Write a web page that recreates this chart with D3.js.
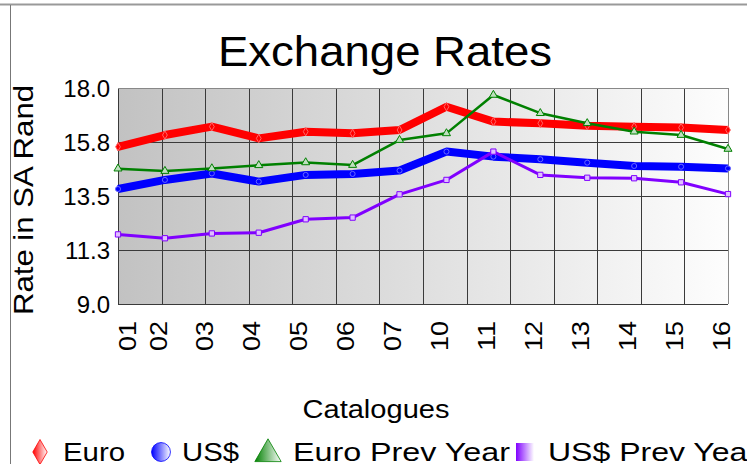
<!DOCTYPE html>
<html>
<head>
<script src="https://d3js.org/d3.v7.min.js"></script>
<style>
  html, body { margin: 0; padding: 0; background: #fff; }
  svg { display: block; font-family: 'Liberation Sans', Arial, sans-serif; }
</style>
</head>
<body>
<div id="chart"></div>
<script>
// catalogue numbers and rates
const catalogues = ["01","02","03","04","05","06","07","10","11","12","13","14","15","16"];
const euro     = [15.55,16.04,16.39,15.90,16.18,16.11,16.25,17.22,16.60,16.53,16.43,16.39,16.35,16.25];
const usd      = [13.79,14.17,14.44,14.10,14.38,14.42,14.56,15.35,15.14,15.03,14.89,14.75,14.72,14.65];
const euroPrev = [14.64,14.54,14.65,14.78,14.90,14.79,15.83,16.11,17.71,16.95,16.53,16.18,16.04,15.46];
const usdPrev  = [11.90,11.74,11.94,11.97,12.53,12.60,13.57,14.17,15.35,14.38,14.26,14.24,14.07,13.58];
const yTicks = [9.0, 11.25, 13.5, 15.75, 18.0];
const yTickLabels = ["9.0", "11.3", "13.5", "15.8", "18.0"];

const series = [
  { name: "Euro", values: euro, color: "#ff0000", width: 8, marker: "diamond" },
  { name: "US$", values: usd, color: "#0000ff", width: 8, marker: "circle" },
  { name: "Euro Prev  Year", values: euroPrev, color: "#008000", width: 2.5, marker: "triangle" },
  { name: "US$ Prev  Year", values: usdPrev, color: "#8000ff", width: 3, marker: "square" }
];

const width = 747, height = 464;
const plot = { left: 118, right: 728, top: 88, bottom: 304 };

const svg = d3.select("#chart").append("svg")
  .attr("width", width).attr("height", height);

const defs = svg.append("defs");
const bg = defs.append("linearGradient").attr("id", "bg")
  .attr("x1", "0").attr("x2", "1").attr("y1", "0").attr("y2", "0");
bg.append("stop").attr("offset", "0").attr("stop-color", "#c2c2c2");
bg.append("stop").attr("offset", "1").attr("stop-color", "#fdfdfd");

series.forEach((s, i) => {
  const g = defs.append("linearGradient").attr("id", "lg" + i)
    .attr("x1", "0").attr("x2", "1").attr("y1", "0").attr("y2", "0");
  g.append("stop").attr("offset", "0").attr("stop-color", s.color);
  g.append("stop").attr("offset", "1").attr("stop-color", "#ffffff");
});

// outer frame
svg.append("line").attr("x1", 0).attr("x2", width).attr("y1", 4.5).attr("y2", 4.5)
  .attr("stroke", "#999").attr("stroke-width", 2);
svg.append("line").attr("x1", 10.5).attr("x2", 10.5).attr("y1", 5).attr("y2", height)
  .attr("stroke", "#777").attr("stroke-width", 1);

const x = d3.scalePoint().domain(catalogues).range([plot.left, plot.right]);
const xBand = d3.scaleBand().domain(catalogues).range([plot.left, plot.right]);
const y = d3.scaleLinear().domain([9, 18]).range([plot.bottom, plot.top]);

// plot background
svg.append("rect")
  .attr("x", plot.left).attr("y", plot.top)
  .attr("width", plot.right - plot.left).attr("height", plot.bottom - plot.top)
  .attr("fill", "url(#bg)");

// grid
const grid = svg.append("g").attr("stroke", "#3a3a3a").attr("stroke-width", 1);
const vEdges = catalogues.map(c => xBand(c)).concat([plot.right]);
grid.selectAll("line.v").data(vEdges).join("line")
  .attr("x1", d => Math.round(d) + 0.5).attr("x2", d => Math.round(d) + 0.5)
  .attr("y1", plot.top).attr("y2", plot.bottom)
  .attr("stroke", (d, i) => (i === vEdges.length - 1 ? "#888" : "#3a3a3a"));
grid.selectAll("line.h").data(yTicks).join("line")
  .attr("x1", plot.left).attr("x2", plot.right)
  .attr("y1", d => Math.round(y(d)) + 0.5).attr("y2", d => Math.round(y(d)) + 0.5)
  .attr("stroke", (d, i) => (i === yTicks.length - 1 ? "#888" : "#3a3a3a"));

// y tick labels
svg.append("g").selectAll("text").data(yTicks).join("text")
  .attr("x", 110).attr("y", d => y(d))
  .attr("dy", "0.36em")
  .attr("text-anchor", "end")
  .attr("font-size", 24)
  .text((d, i) => yTickLabels[i]);

// x tick labels (rotated)
svg.append("g").selectAll("text").data(catalogues).join("text")
  .attr("transform", d => `translate(${Math.max(x(d) - 7, plot.left + 9)},321) rotate(-90)`)
  .attr("dy", "0.36em")
  .attr("text-anchor", "end")
  .attr("font-size", 24)
  .attr("textLength", 30).attr("lengthAdjust", "spacingAndGlyphs")
  .text(d => d);

// lines
const line = d3.line().x((d, i) => x(catalogues[i])).y(d => y(d));
series.forEach(s => {
  svg.append("path").datum(s.values)
    .attr("d", line)
    .attr("fill", "none")
    .attr("stroke", s.color)
    .attr("stroke-width", s.width)
    .attr("stroke-linejoin", "round");
});

function markerPath(type, size) {
  const map = { diamond: d3.symbolDiamond, circle: d3.symbolCircle, triangle: d3.symbolTriangle, square: d3.symbolSquare };
  return d3.symbol().type(map[type]).size(size)();
}

// point markers: the thick series hide theirs under the line
series.forEach(s => {
  const outlined = s.marker === "triangle" || s.marker === "square";
  svg.append("g").selectAll("path").data(s.values).join("path")
    .attr("transform", (d, i) => `translate(${x(catalogues[i])},${y(d)})`)
    .attr("d", markerPath(s.marker, outlined ? 28 : 20))
    .attr("fill", outlined ? d3.interpolateRgb(s.color, "#fff")(0.75) : s.color)
    .attr("stroke", outlined ? s.color : d3.interpolateRgb(s.color, "#fff")(0.4))
    .attr("stroke-width", 1);
});

// title
svg.append("text")
  .attr("x", 385).attr("y", 66)
  .attr("text-anchor", "middle")
  .attr("font-size", 42)
  .attr("textLength", 334).attr("lengthAdjust", "spacingAndGlyphs")
  .text("Exchange Rates");

// y axis title
svg.append("text")
  .attr("transform", "translate(33,200) rotate(-90)")
  .attr("text-anchor", "middle")
  .attr("font-size", 28)
  .attr("textLength", 230).attr("lengthAdjust", "spacingAndGlyphs")
  .text("Rate in SA  Rand");

// x axis title
svg.append("text")
  .attr("x", 376).attr("y", 418)
  .attr("text-anchor", "middle")
  .attr("font-size", 26)
  .attr("textLength", 147).attr("lengthAdjust", "spacingAndGlyphs")
  .text("Catalogues");

// legend
const legendItems = [
  { sym: 40, text: 63, len: 62 },
  { sym: 161, text: 182, len: 57 },
  { sym: 268, text: 293, len: 217 },
  { sym: 525, text: 548, len: 210 }
];
const legend = svg.append("g");
series.forEach((s, i) => {
  const it = legendItems[i];
  let shape;
  if (s.marker === "diamond") shape = d3.symbol().type(d3.symbolDiamond).size(180)();
  else if (s.marker === "circle") shape = d3.symbol().type(d3.symbolCircle).size(280)();
  else if (s.marker === "triangle") shape = d3.symbol().type(d3.symbolTriangle).size(300)();
  else shape = null;
  if (shape) {
    legend.append("path")
      .attr("transform", `translate(${it.sym},${s.marker === "triangle" ? 454 : 452})`)
      .attr("d", shape)
      .attr("fill", `url(#lg${i})`)
      .attr("stroke", s.color).attr("stroke-width", 0.8);
  } else {
    legend.append("rect")
      .attr("x", it.sym - 9).attr("y", 443).attr("width", 18).attr("height", 18)
      .attr("fill", `url(#lg${i})`);
  }
  legend.append("text")
    .attr("x", it.text).attr("y", 461)
    .attr("font-size", 26)
    .attr("textLength", it.len).attr("lengthAdjust", "spacingAndGlyphs")
    .text(s.name);
});
</script>
</body>
</html>
